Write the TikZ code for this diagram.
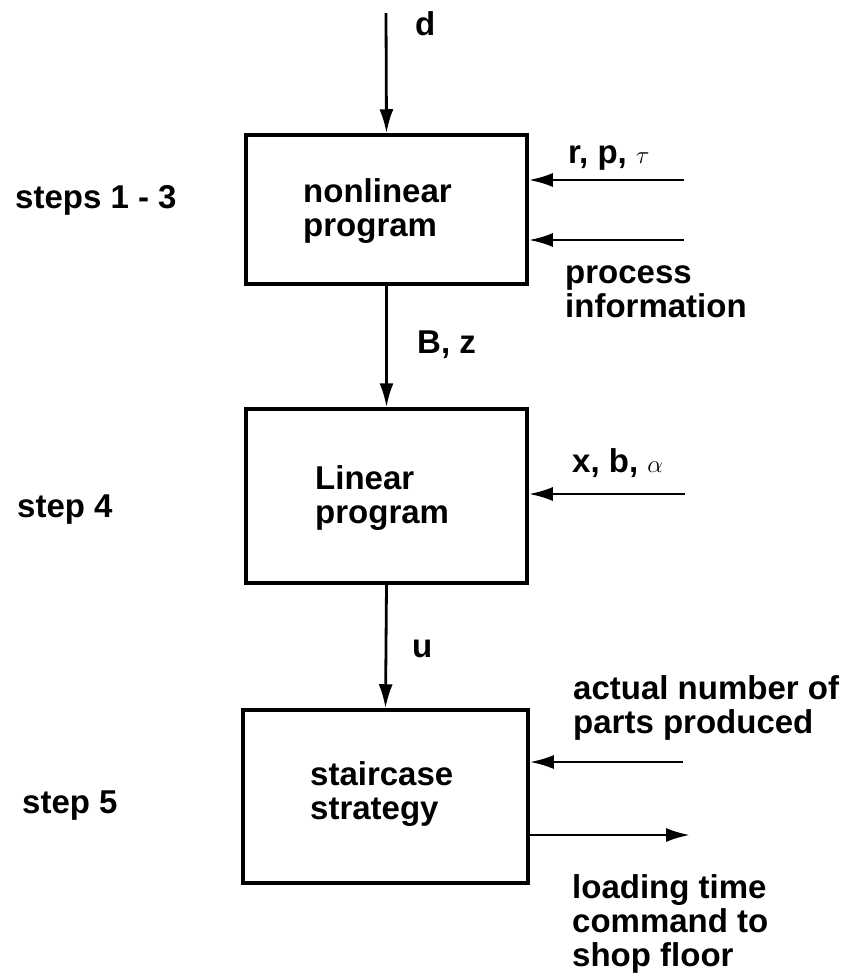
\documentclass[tikz,border=0pt]{standalone}
\usepackage{fontspec}
\setmainfont{Liberation Sans}
\usetikzlibrary{arrows.meta}
\begin{document}
\begin{tikzpicture}[x=1pt,y=-1pt,
  every node/.style={font=\fontsize{33}{34}\selectfont\bfseries},
  blk/.style={draw,line width=3.5pt,minimum width=281pt,inner sep=0pt},
  lbl/.style={inner sep=0pt,anchor=base west,align=left},
  flow/.style={line width=2.8pt,-{Latex[length=24pt,width=14pt]}}]
\useasboundingbox (0,0) rectangle (853,978);
\node[blk,minimum height=149pt] (b1) at (386.5,209.5) {};
\node[blk,minimum height=174pt] (b2) at (386.5,496) {};
\node[blk,minimum width=285pt,minimum height=173pt] (b3) at (385.5,796.5) {};
% base anchor of a multi-line node = baseline of its last line
\node[lbl] (t1) at (303,236) {nonlinear\\program};
\node[lbl] (t2) at (315,523) {Linear\\program};
\node[lbl] (t3) at (310,819) {staircase\\strategy};
\node[lbl] (s1) at (15,208) {steps 1 - 3};
\node[lbl] (s4) at (17,517) {step 4};
\node[lbl] (s5) at (22,813) {step 5};
\coordinate (din) at (386,13);
\draw[flow] (din) -- (b1.north);
\node[lbl] (ld) at (415,35) {d};
\draw[flow] (b1.south) -- (b2.north);
\node[lbl] (lbz) at (417,353) {B, z};
\draw[flow] (b2.south) -- (b3.north);
\node[lbl] (lu) at (412,657) {u};
\coordinate (r1) at (684,180);
\coordinate (r2) at (684,240);
\coordinate (r3) at (685,494);
\coordinate (r4) at (683,762);
\coordinate (r5) at (690,835);
\draw[flow] (r1) -- (r1 -| b1.east);
\draw[flow] (r2) -- (r2 -| b1.east);
\draw[flow] (r3) -- (r3 -| b2.east);
\draw[flow] (r4) -- (r4 -| b3.east);
\draw[flow] (r5 -| b3.east) -- (r5);
\node[lbl] (lr) at (568,163) {r, p, $\tau$};
\node[lbl] (lp) at (565,317) {process\\information};
\node[lbl] (lx) at (572,472) {x, b, $\alpha$};
\node[lbl] (la) at (573,733) {actual number of\\parts produced};
\node[lbl] (ll) at (572,966) {loading time\\command to\\shop floor};
\end{tikzpicture}
\end{document}
